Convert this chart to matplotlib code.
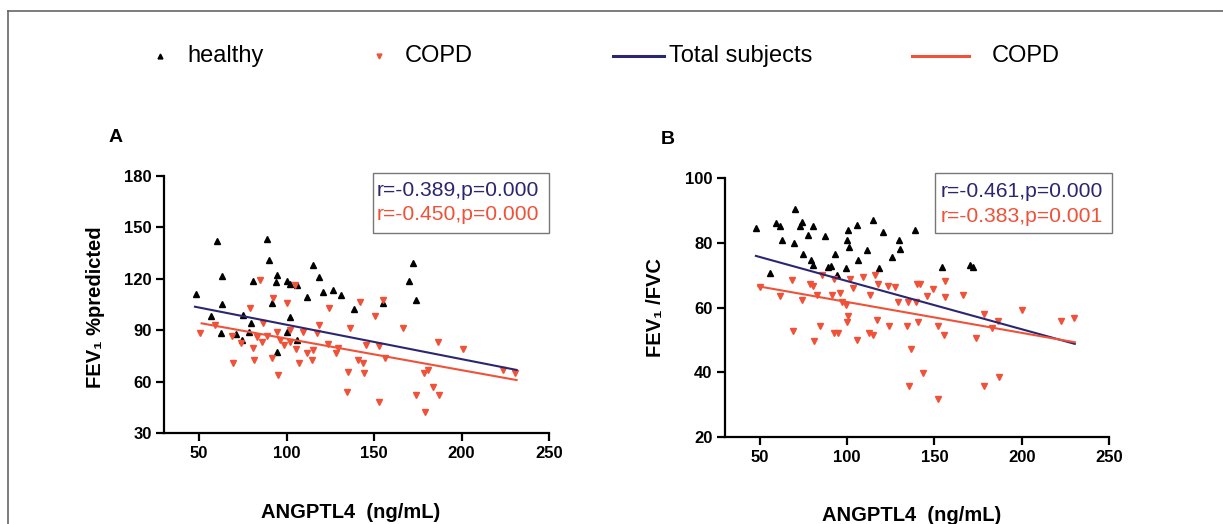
import matplotlib
matplotlib.use("Agg")
import matplotlib.pyplot as plt
from matplotlib.lines import Line2D
from matplotlib.patches import Rectangle

plt.rcParams['font.family'] = ['Liberation Sans', 'DejaVu Sans']

# Panel A: FEV1 %predicted vs ANGPTL4
healthy_a_x = [48.3, 60.1, 63.3, 63.0, 56.7, 62.4, 71.1, 74.4, 75.0, 79.7, 78.8, 81.0,
               88.7, 90.0, 94.4, 94.0, 91.9, 100.0, 102.0, 106.2, 102.0, 100.0, 106.2,
               94.8, 111.9, 115.3, 118.8, 120.7, 126.4, 131.0, 138.6, 155.0, 170.2,
               172.5, 173.8]
healthy_a_y = [111, 142, 121.8, 105.3, 98.1, 88.6, 87.6, 84.3, 98.9, 94, 89.1, 118.9,
               143.2, 131, 122.2, 118.3, 106, 118.7, 116.8, 116.6, 97.9, 88.8, 84.3,
               77.5, 109.6, 128, 121.2, 112.1, 113.5, 110.7, 102.4, 106, 118.9,
               129, 107.6]
copd_a_x = [50.6, 69.6, 69.1, 74.2, 79.1, 81.0, 81.6, 84.9, 85.8, 86.8, 91.9, 92.5,
            95.3, 94.4, 98.5, 100.0, 102.0, 104.8, 105.4, 107.4, 109.6, 111.5, 114.4,
            115.3, 117.2, 118.8, 124.4, 123.9, 128.3, 129.6, 136.3, 135.4, 134.8,
            141.1, 142.0, 143.9, 144.3, 145.4, 150.6, 153.1, 152.9, 155.0, 156.3,
            166.7, 173.9, 178.7, 179.0, 181.1, 183.5, 187.2, 186.7, 201.0, 223.9,
            230.6, 83.0, 88.7, 96.3, 102.0, 59.3]
copd_a_y = [88.2, 70.7, 86.6, 82.3, 102.8, 79.4, 72.6, 119.3, 83.3, 94, 73.6, 108.6,
            63.9, 89.1, 81.4, 105.7, 90.1, 116.4, 78.8, 71, 89.1, 76.9, 72.6,
            78.4, 88.2, 93, 103.2, 82, 76.9, 79.4, 91.1, 65.8, 54.1,
            72.6, 106.7, 70.7, 64.8, 81.4, 98.3, 80.9, 47.9, 107.6, 73.6,
            91.1, 52.2, 64.8, 42, 66.8, 57, 52.2, 83.3, 78.8, 67,
            64.8, 86.2, 86.6, 84.3, 83.3, 93]
total_fit_a_x = [47.7, 231.5]
total_fit_a_y = [103.7, 66.8]
copd_fit_a_x = [51.5, 231.5]
copd_fit_a_y = [94.0, 60.9]

# Panel B: FEV1/FVC vs ANGPTL4
healthy_b_x = [47.7, 55.8, 59.2, 61.5, 62.4, 70.1, 69.5, 73.9, 72.9, 74.8, 77.7, 80.2,
               79.0, 80.6, 87.3, 89.2, 90.5, 92.9, 93.9, 99.3, 100.2, 100.0, 101.0,
               105.8, 106.3, 111.5, 114.9, 118.4, 120.3, 125.4, 129.8, 130.2, 138.8,
               154.6, 170.3, 172.2]
healthy_b_y = [84.6, 70.7, 86.1, 85.4, 81, 90.4, 79.9, 86.6, 85.1, 76.6, 82.5, 85.1,
               74.8, 73.3, 82.2, 72.7, 72.9, 76.6, 70.2, 72.2, 84.1, 81, 78.9,
               85.6, 74.8, 77.7, 87.1, 72.4, 83.5, 75.6, 81, 78.1, 84.1,
               72.7, 73.3, 72.5]
copd_b_x = [50.0, 61.5, 68.2, 69.1, 73.9, 78.7, 80.6, 81.0, 82.5, 84.4, 85.3, 91.1,
            92.2, 92.6, 94.9, 95.8, 96.8, 99.3, 99.7, 100.6, 101.6, 103.5, 105.4,
            109.2, 113.0, 112.6, 115.0, 115.8, 116.8, 117.8, 123.5, 124.1, 127.3,
            129.2, 134.0, 135.0, 135.5, 136.3, 139.7, 140.3, 140.1, 141.6, 143.2,
            145.5, 149.3, 151.8, 152.1, 155.4, 156.0, 156.0, 166.1, 173.7, 178.3,
            178.3, 182.7, 187.1, 186.5, 200.4, 222.7, 229.8]
copd_b_y = [66.3, 63.5, 68.6, 52.7, 62.4, 67.4, 66.6, 49.6, 64, 54.2, 70.2, 64,
            52.2, 68.8, 52.2, 64.5, 61.9, 60.9, 55.5, 57.3, 68.8, 66, 50.1,
            69.4, 64, 52.2, 51.6, 70.2, 56.3, 67.4, 66.6, 54.2, 66.4,
            61.9, 54.2, 61.9, 35.7, 47.2, 61.9, 55.5, 67.4, 67.4, 39.8,
            63.5, 65.7, 54.2, 31.8, 51.6, 68.1, 63.3, 64, 50.6, 35.7,
            58.1, 53.7, 38.6, 55.8, 59.4, 55.8, 56.8]
total_fit_b_x = [47.7, 230.4]
total_fit_b_y = [76.0, 48.8]
copd_fit_b_x = [49.1, 230.4]
copd_fit_b_y = [66.6, 49.3]

x_ticks = [50, 100, 150, 200, 250]
a_yticks = [30, 60, 90, 120, 150, 180]
b_yticks = [20, 40, 60, 80, 100]

stats_a = ["r=-0.389,p=0.000", "r=-0.450,p=0.000"]
stats_b = ["r=-0.461,p=0.000", "r=-0.383,p=0.001"]

BLUE = "#2b2670"
RED = "#ef5238"
W, H = 1223, 524

fig = plt.figure(figsize=(W / 100, H / 100), dpi=100)
fig.patch.set_facecolor("white")

# frame lines at top and left
fig.add_artist(Line2D([7.5 / W, 1], [1 - 10.7 / H, 1 - 10.7 / H], color="#666666", lw=1.2))
fig.add_artist(Line2D([7.5 / W, 7.5 / W], [0, 1 - 10.7 / H], color="#666666", lw=1.2))


def px_box(l, t, r, b):
    return [l / W, 1 - b / H, (r - l) / W, (b - t) / H]


def style_axis(ax, ylim, yticks):
    ax.set_xlim(30, 250)
    ax.set_ylim(*ylim)
    ax.set_xticks(x_ticks)
    ax.set_yticks(yticks)
    for s in ["top", "right"]:
        ax.spines[s].set_visible(False)
    for s in ["left", "bottom"]:
        ax.spines[s].set_linewidth(1.6)
    ax.tick_params(width=1.6, length=6, labelsize=12, pad=3)
    for lab in ax.get_xticklabels() + ax.get_yticklabels():
        lab.set_fontweight("bold")


def panel(ax, hx, hy, cx, cy, tfx, tfy, cfx, cfy, stats, box, textx, ys):
    ax.plot(hx, hy, ls="none", marker="^", ms=4.6, color="black", clip_on=False)
    ax.plot(cx, cy, ls="none", marker="v", ms=4.6, color=RED, clip_on=False)
    ax.plot(tfx, tfy, color=BLUE, lw=1.5)
    ax.plot(cfx, cfy, color=RED, lw=1.5)
    x0, y0, x1, y1 = box
    ax.add_patch(Rectangle((x0, y0), x1 - x0, y1 - y0, transform=ax.transAxes,
                           fill=False, edgecolor="#777777", lw=1.0, clip_on=False))
    ax.text(textx, ys[0], stats[0], transform=ax.transAxes, color=BLUE,
            fontsize=15.2, va="center", ha="left")
    ax.text(textx, ys[1], stats[1], transform=ax.transAxes, color=RED,
            fontsize=15.2, va="center", ha="left")


ax_a = fig.add_axes(px_box(164, 176, 549, 433))
panel(ax_a, healthy_a_x, healthy_a_y, copd_a_x, copd_a_y,
      total_fit_a_x, total_fit_a_y, copd_fit_a_x, copd_fit_a_y,
      stats_a, (0.5436, 0.779, 1.0, 1.0105), 0.553, (0.9455, 0.852))
style_axis(ax_a, (30, 180), a_yticks)
ax_a.set_ylabel("FEV₁ %predicted", fontsize=14.5, fontweight="bold")
ax_a.set_xlabel("ANGPTL4  (ng/mL)", fontsize=14.5, fontweight="bold")
ax_a.yaxis.set_label_coords(-0.153, 0.49)
ax_a.xaxis.set_label_coords(0.485, -0.272)

ax_b = fig.add_axes(px_box(725, 178.3, 1109, 437))
panel(ax_b, healthy_b_x, healthy_b_y, copd_b_x, copd_b_y,
      total_fit_b_x, total_fit_b_y, copd_fit_b_x, copd_fit_b_y,
      stats_b, (0.547, 0.79, 1.007, 1.019), 0.561, (0.948, 0.8516))
style_axis(ax_b, (20, 100), b_yticks)
ax_b.set_ylabel("FEV₁ /FVC", fontsize=14.5, fontweight="bold")
ax_b.set_xlabel("ANGPTL4  (ng/mL)", fontsize=14.5, fontweight="bold")
ax_b.yaxis.set_label_coords(-0.156, 0.5)
ax_b.xaxis.set_label_coords(0.485, -0.265)

fig.text(115.6 / W, 1 - 138 / H, "A", fontsize=14, fontweight="bold", ha="center", va="center")
fig.text(668 / W, 1 - 140 / H, "B", fontsize=14, fontweight="bold", ha="center", va="center")

# legend row
ly = 1 - 56 / H
fig.add_artist(Line2D([160 / W], [ly], ls="none", marker="^", ms=3.5, color="black"))
fig.text(187 / W, ly, "healthy", fontsize=17, va="center", ha="left")
fig.add_artist(Line2D([379 / W], [ly], ls="none", marker="v", ms=3.5, color=RED))
fig.text(405 / W, ly, "COPD", fontsize=17, va="center", ha="left")
fig.add_artist(Line2D([613 / W, 664 / W], [ly, ly], color=BLUE, lw=2.2))
fig.text(669 / W, ly, "Total subjects", fontsize=17, va="center", ha="left")
fig.add_artist(Line2D([912 / W, 969 / W], [ly, ly], color=RED, lw=2.2))
fig.text(992 / W, ly, "COPD", fontsize=17, va="center", ha="left")

fig.savefig("out.png", dpi=100, facecolor="white")
